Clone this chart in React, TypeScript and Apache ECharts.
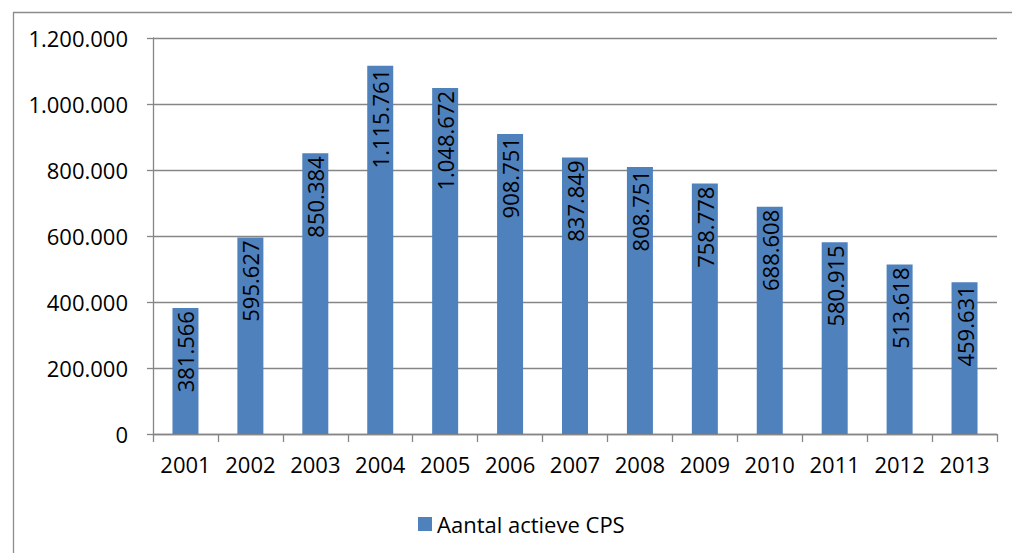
import React, { useEffect, useRef } from "react";
import * as echarts from "echarts";

const categories = ["2001", "2002", "2003", "2004", "2005", "2006", "2007", "2008", "2009", "2010", "2011", "2012", "2013"];
const values = [381566, 595627, 850384, 1115761, 1048672, 908751, 837849, 808751, 758778, 688608, 580915, 513618, 459631];
const seriesName = "Aantal actieve CPS";

const fmt = (v: number) => String(Math.round(v)).replace(/\B(?=(\d{3})+(?!\d))/g, ".");
const FONT = "'Open Sans', sans-serif";
const FS = 22;

export default function App() {
  const ref = useRef<HTMLDivElement>(null);
  useEffect(() => {
    const chart = echarts.init(ref.current!, undefined, { renderer: "svg" });
    chart.setOption({
      animation: false,
      backgroundColor: "#ffffff",
      textStyle: { fontFamily: FONT },
      graphic: [
        {
          type: "rect",
          left: 11,
          top: 10,
          shape: { width: 1200, height: 700 },
          style: { fill: "none", stroke: "#8c8c8c", lineWidth: 1.3 },
          silent: true,
        },
      ],
      legend: {
        data: [seriesName],
        left: 413,
        top: 508,
        itemWidth: 14,
        itemHeight: 14,
        itemGap: 6,
        icon: "rect",
        textStyle: { fontSize: FS, color: "#000", fontFamily: FONT },
      },
      grid: { left: 153, right: 15, top: 38, bottom: 119, containLabel: false },
      xAxis: {
        type: "category",
        data: categories,
        axisLine: { lineStyle: { color: "#868686", width: 1.3 } },
        axisTick: { show: true, length: 8, interval: 0, alignWithLabel: false, lineStyle: { color: "#868686", width: 1.3 } },
        axisLabel: { color: "#000", fontSize: FS, margin: 19, interval: 0, hideOverlap: false, fontFamily: FONT },
      },
      yAxis: {
        type: "value",
        min: 0,
        max: 1200000,
        interval: 200000,
        axisLine: { show: true, lineStyle: { color: "#868686", width: 1.3 } },
        axisTick: { show: true, length: 6, lineStyle: { color: "#868686", width: 1.3 } },
        splitLine: { show: true, lineStyle: { color: "#868686", width: 1.3 } },
        axisLabel: { color: "#000", fontSize: FS, margin: 25, fontFamily: FONT, formatter: (v: number) => fmt(v) },
      },
      series: [
        {
          name: seriesName,
          type: "bar",
          data: values,
          barWidth: 26,
          itemStyle: { color: "#4F81BD" },
          label: {
            show: true,
            position: "insideTop",
            rotate: 90,
            align: "right",
            verticalAlign: "middle",
            distance: 3,
            color: "#000",
            fontSize: FS,
            fontFamily: FONT,
            formatter: (p: any) => fmt(p.value),
          },
        },
      ],
    });
    return () => chart.dispose();
  }, []);
  return <div ref={ref} style={{ position: "fixed", left: 0, top: 0, width: 1012, height: 553 }} />;
}
